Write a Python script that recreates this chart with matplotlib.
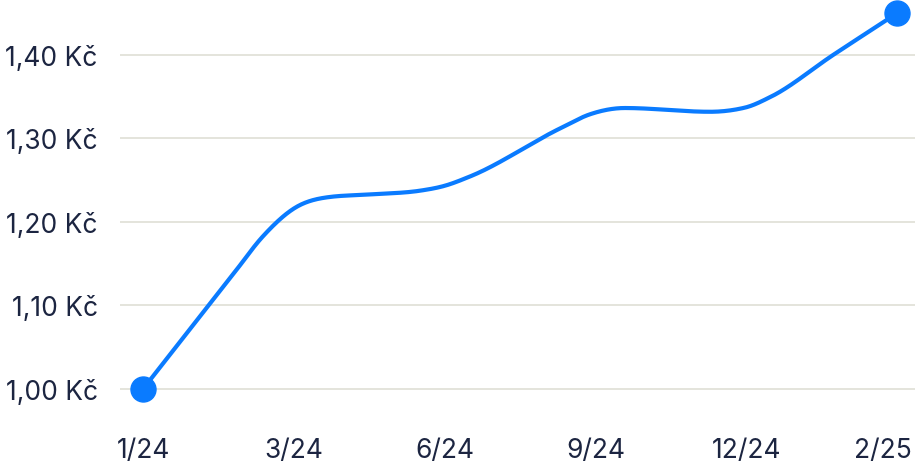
import numpy as np
import matplotlib
matplotlib.use("Agg")
import matplotlib.pyplot as plt
from matplotlib.transforms import ScaledTranslation

# tick labels along the bottom (evenly spaced categories)
x_labels = ["1/24", "3/24", "6/24", "9/24", "12/24", "2/25"]

# price curve: position along the axis (label index units) and value in Kč
curve_pos = [0.00, 0.60, 0.796, 1.008, 1.240, 1.505, 1.837, 2.003, 2.168, 2.765,
             2.964, 3.196, 3.760, 3.992, 4.158, 4.576, 5.00]
curve_val = [1.000, 1.138, 1.183, 1.217, 1.230, 1.233, 1.2375, 1.2435, 1.2545, 1.312,
             1.329, 1.3365, 1.332, 1.337, 1.3495, 1.400, 1.450]

y_ticks = [1.00, 1.10, 1.20, 1.30, 1.40]

LINE_BLUE = "#0a7bff"
TEXT_COLOR = "#1c2541"
GRID_COLOR = "#e4e4dc"


def monotone_cubic(x, y, samples=1000):
    # Steffen-style monotone interpolation, straight tangents at the ends
    x = np.asarray(x, dtype=float)
    y = np.asarray(y, dtype=float)
    h = np.diff(x)
    s = np.diff(y) / h
    m = np.zeros_like(y)
    for i in range(1, len(x) - 1):
        p = (s[i - 1] * h[i] + s[i] * h[i - 1]) / (h[i - 1] + h[i])
        m[i] = (np.sign(s[i - 1]) + np.sign(s[i])) * min(abs(s[i - 1]), abs(s[i]), 0.5 * abs(p))
    m[0] = s[0]
    m[-1] = s[-1]

    xs = np.linspace(x[0], x[-1], samples)
    idx = np.clip(np.searchsorted(x, xs) - 1, 0, len(x) - 2)
    t = (xs - x[idx]) / h[idx]
    h00 = 2 * t**3 - 3 * t**2 + 1
    h10 = t**3 - 2 * t**2 + t
    h01 = -2 * t**3 + 3 * t**2
    h11 = t**3 - t**2
    ys = h00 * y[idx] + h10 * h[idx] * m[idx] + h01 * y[idx + 1] + h11 * h[idx] * m[idx + 1]
    return xs, ys


def main() -> None:
    plt.rcParams["font.family"] = ["Inter", "DejaVu Sans"]

    fig = plt.figure(figsize=(9.15, 4.64), dpi=100)
    W, H = 915, 464
    ax = fig.add_axes([120 / W, (H - 420) / H, (W - 120) / W, 420 / H])

    step = 150.8
    ax.set_xlim(-(143 - 120) / step, (915 - 143) / step)
    ax.set_ylim(1 - 30 / 835, 1 + 390 / 835)

    xs, ys = monotone_cubic(curve_pos, curve_val)
    ax.plot(xs, ys, color=LINE_BLUE, lw=3.0, solid_capstyle="round", zorder=3)
    ax.plot([curve_pos[0], curve_pos[-1]], [curve_val[0], curve_val[-1]], "o",
            color=LINE_BLUE, markersize=18, clip_on=False, zorder=4)

    ax.set_yticks(y_ticks)
    ax.set_yticklabels([f"{v:.2f} Kč".replace(".", ",") for v in y_ticks])
    ax.set_xticks(range(len(x_labels)))
    ax.set_xticklabels(x_labels)

    ax.grid(axis="y", color=GRID_COLOR, lw=1.4)
    ax.set_axisbelow(True)
    for spine in ax.spines.values():
        spine.set_visible(False)
    ax.tick_params(axis="both", length=0, labelsize=19, colors=TEXT_COLOR)
    ax.tick_params(axis="y", pad=16)
    ax.tick_params(axis="x", pad=13)

    # last date label is pulled in so it stays inside the picture
    last = ax.get_xticklabels()[-1]
    last.set_ha("right")
    last.set_transform(last.get_transform() + ScaledTranslation(0.15, 0, fig.dpi_scale_trans))

    fig.savefig("out.png", dpi=100)
    plt.close(fig)


if __name__ == "__main__":
    main()
